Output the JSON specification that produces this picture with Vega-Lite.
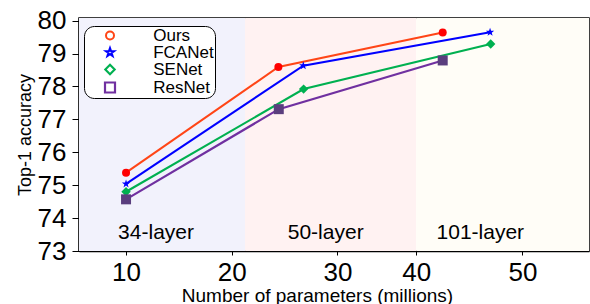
{
  "$schema": "https://vega.github.io/schema/vega-lite/v6.json",
  "width": 510,
  "height": 233,
  "autosize": {"type": "none"},
  "padding": {"left": 79, "top": 18, "right": 1, "bottom": 53},
  "background": "white",
  "config": {
    "font": "Liberation Sans",
    "view": {"stroke": "black", "strokeWidth": 1.5},
    "axis": {"grid": false, "domainColor": "black", "domainWidth": 1.5, "tickColor": "black", "labelColor": "black", "titleColor": "black", "titleFontWeight": "normal", "labelFont": "Liberation Sans", "titleFont": "Liberation Sans", "labelOverlap": false}
  },
  "datasets": {
    "bands": [
      {"band": "34-layer", "x0": 5.55, "x1": 21.26, "xt": 12.84},
      {"band": "50-layer", "x0": 21.26, "x1": 37.45, "xt": 28.89},
      {"band": "101-layer", "x0": 37.45, "x1": 53.8, "xt": 43.52}
    ],
    "acc": [
      {"model": "Ours", "params": 10, "top1": 75.38},
      {"model": "Ours", "params": 24.41, "top1": 78.59},
      {"model": "Ours", "params": 39.96, "top1": 79.64},
      {"model": "FCANet", "params": 10, "top1": 75.04},
      {"model": "FCANet", "params": 26.77, "top1": 78.63},
      {"model": "FCANet", "params": 44.44, "top1": 79.65},
      {"model": "SENet", "params": 10, "top1": 74.8},
      {"model": "SENet", "params": 26.8, "top1": 77.92},
      {"model": "SENet", "params": 44.5, "top1": 79.29},
      {"model": "ResNet", "params": 10, "top1": 74.57},
      {"model": "ResNet", "params": 24.45, "top1": 77.31},
      {"model": "ResNet", "params": 39.96, "top1": 78.79}
    ]
  },
  "resolve": {"scale": {"fill": "independent"}},
  "layer": [
    {
      "data": {"name": "bands"},
      "mark": {"type": "rect"},
      "encoding": {
        "x": {"field": "x0", "type": "quantitative", "scale": {"domain": [5.55, 53.8], "nice": false, "zero": false},
          "axis": {"values": [10, 20, 30, 37.45, 47.5], "labelExpr": "datum.value == 37.45 ? '40' : datum.value == 47.5 ? '50' : datum.label", "title": "Number of parameters (millions)", "tickSize": 4, "labelPadding": 4, "labelFontSize": 26, "titleFontSize": 19, "titleX": 238, "titleY": 50, "titleBaseline": "alphabetic"}},
        "x2": {"field": "x1"},
        "fill": {"field": "band", "type": "nominal", "scale": {"domain": ["34-layer", "50-layer", "101-layer"], "range": ["#f2f2fc", "#fff2f2", "#fffdf7"]}, "legend": null}
      }
    },
    {
      "data": {"name": "bands"},
      "mark": {"type": "text", "fontSize": 21, "font": "Liberation Sans", "color": "black", "baseline": "alphabetic", "align": "center"},
      "encoding": {
        "x": {"field": "xt", "type": "quantitative"},
        "y": {"datum": 73.35, "type": "quantitative", "scale": {"domain": [73, 80.08], "nice": false, "zero": false},
          "axis": {"values": [73, 74, 75, 76, 77, 78, 79, 80], "tickCount": 8, "labelOverlap": false, "labelSeparation": 0, "title": "Top-1 accuracy", "tickSize": 7, "labelPadding": 6, "labelFontSize": 26, "titleFontSize": 18, "titleX": -54, "titleBaseline": "middle"}},
        "text": {"field": "band"}
      }
    },
    {
      "data": {"name": "acc"},
      "mark": {"type": "line"},
      "encoding": {
        "x": {"field": "params", "type": "quantitative"},
        "y": {"field": "top1", "type": "quantitative"},
        "color": {"field": "model", "type": "nominal", "sort": ["Ours", "FCANet", "SENet", "ResNet"],
          "scale": {"domain": ["Ours", "FCANet", "SENet", "ResNet"], "range": ["#ff4516", "#0000ff", "#00b050", "#7030a0"]},
          "legend": {
            "title": null, "orient": "none", "legendX": 5, "legendY": 8, "direction": "vertical",
            "fillColor": "white", "strokeColor": "black", "cornerRadius": 10, "padding": 1,
            "symbolSize": 100, "symbolOffset": 16.5, "labelOffset": 34.7, "labelFontSize": 17, "labelFont": "Liberation Sans", "labelColor": "black",
            "rowPadding": -2.2, "symbolStrokeWidth": 0,
            "labelExpr": "datum.label + '\u00a0\u00a0\u00a0\u00a0\u00a0'"
          }},
        "strokeWidth": {"field": "model", "type": "nominal", "scale": {"domain": ["Ours", "FCANet", "SENet", "ResNet"], "range": [2, 2.2, 3, 3]}, "legend": null}
      }
    },
    {
      "data": {"name": "acc"},
      "mark": {"type": "point", "filled": true, "opacity": 1, "strokeWidth": 0},
      "encoding": {
        "x": {"field": "params", "type": "quantitative"},
        "y": {"field": "top1", "type": "quantitative"},
        "fill": {"field": "model", "type": "nominal", "scale": {"domain": ["Ours", "FCANet", "SENet", "ResNet"], "range": ["#ff0000", "#0000ff", "#00b050", "#5a3e7e"]}, "legend": null},
        "shape": {"field": "model", "type": "nominal", "scale": {"domain": ["Ours", "FCANet", "SENet", "ResNet"], "range": ["circle", "M0,-1L0.235,-0.324L0.951,-0.309L0.38,0.124L0.588,0.809L0,0.4L-0.588,0.809L-0.38,0.124L-0.951,-0.309L-0.235,-0.324Z", "diamond", "square"]}, "legend": null},
        "size": {"field": "model", "type": "nominal", "scale": {"domain": ["Ours", "FCANet", "SENet", "ResNet"], "range": [64, 100, 110, 64]}, "legend": null}
      }
    }
  ]
}
